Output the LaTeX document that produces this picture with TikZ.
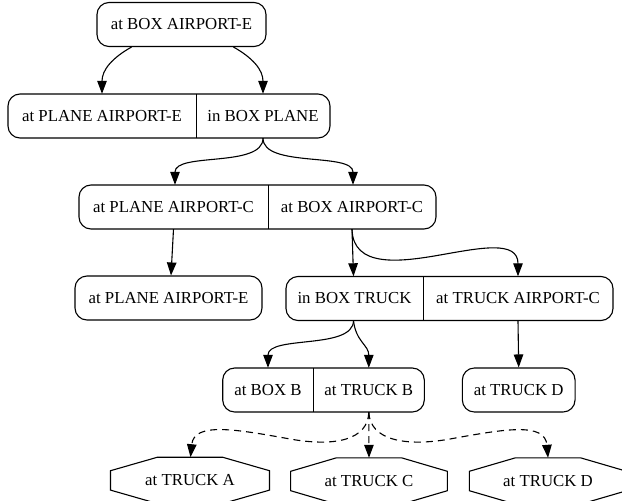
\documentclass[tikz,border=0pt]{standalone}
\usepackage{fontspec}
\setmainfont{Liberation Serif}
\usetikzlibrary{arrows.meta}
\tikzset{
  lbl/.style={font=\fontsize{16.8}{20}\selectfont},
  rbox/.style={draw, line width=1.1pt, rounded corners=12pt, minimum height=44pt, inner sep=0pt, lbl},
  field/.style={minimum height=44pt, inner sep=0pt, lbl},
  octo/.style={minimum height=46pt, inner sep=0pt, lbl},
  edge/.style={line width=1.1pt, -{Triangle[length=13pt,width=9.5pt]}},
  dedge/.style={edge, dash pattern=on 7pt off 5pt},
  divider/.style={line width=1.1pt}
}
\newcommand\octoline[1]{%
  \draw[line width=1.1pt] ([xshift=-32.5pt]#1.north) -- ([xshift=32.5pt]#1.north)
    -- ([yshift=9.7pt]#1.east) -- ([yshift=-9.7pt]#1.east)
    -- ([xshift=32.5pt]#1.south) -- ([xshift=-32.5pt]#1.south)
    -- ([yshift=-9.7pt]#1.west) -- ([yshift=9.7pt]#1.west) -- cycle;}
\begin{document}
\begin{tikzpicture}[x=1pt,y=-1pt]
\useasboundingbox[fill=white] (0,0) rectangle (622,501);

% top node
\node[rbox, minimum width=169pt] (n1) at (181.5,24.5) {at BOX AIRPORT-E};

% record 2
\node[rbox, minimum width=322pt] (r2) at (169,116) {};
\node[field, minimum width=188pt] (r2a) at (102,116) {at PLANE AIRPORT-E};
\node[field, minimum width=134pt] (r2b) at (263,116) {in BOX PLANE};
\draw[divider] (r2a.north east) -- (r2a.south east);

% record 3
\node[rbox, minimum width=357pt] (r3) at (257.5,207) {};
\node[field, minimum width=189pt] (r3a) at (173.5,207) {at PLANE AIRPORT-C};
\node[field, minimum width=168pt] (r3b) at (352,207) {at BOX AIRPORT-C};
\draw[divider] (r3a.north east) -- (r3a.south east);

% node 4
\node[rbox, minimum width=187pt] (n4) at (168.5,298) {at PLANE AIRPORT-E};

% record 5
\node[rbox, minimum width=327pt] (r5) at (449.5,298.5) {};
\node[field, minimum width=137pt] (r5a) at (354.5,298.5) {in BOX TRUCK};
\node[field, minimum width=190pt] (r5b) at (518,298.5) {at TRUCK AIRPORT-C};
\draw[divider] (r5a.north east) -- (r5a.south east);

% record 6
\node[rbox, minimum width=201.6pt] (r6) at (323.5,390) {};
\node[field, minimum width=90.6pt] (r6a) at (268,390) {at BOX B};
\node[field, minimum width=111pt] (r6b) at (368.8,390) {at TRUCK B};
\draw[divider] (r6a.north east) -- (r6a.south east);

% node 7
\node[rbox, minimum width=112.7pt] (n7) at (518.7,390) {at TRUCK D};

% octagons
\node[octo, minimum width=158.6pt] (oA) at (190,480.4) {at TRUCK A};
\node[octo, minimum width=156.3pt] (oC) at (369,481) {at TRUCK C};
\node[octo, minimum width=157pt] (oD) at (548,481) {at TRUCK D};
\octoline{oA}
\octoline{oC}
\octoline{oD}

% edges
\draw[edge] ([xshift=-50pt]n1.south) .. controls (112,58) and (102,70) .. (r2a.north);
\draw[edge] ([xshift=52pt]n1.south) .. controls (253,58) and (263,70) .. (r2b.north);

\draw[edge] (r2b.south) .. controls (263,168) and (175,152) .. ([xshift=1.5pt]r3a.north);
\draw[edge] (r2b.south) .. controls (263,168) and (353,152) .. ([xshift=1pt]r3b.north);

\draw[edge] (r3a.south) -- ([xshift=2.5pt]n4.north);
\draw[edge] (r3b.south) -- ([xshift=-1pt]r5a.north);
\draw[edge] (r3b.south) .. controls (353,268) and (400,262) .. (440,255)
                        .. controls (480,248) and (518,240) .. (r5b.north);

\draw[edge] ([xshift=-1pt]r5a.south) .. controls (353,350) and (268,335) .. (r6a.north);
\draw[edge] ([xshift=-1pt]r5a.south) .. controls (356,342) and (368.8,345) .. (r6b.north);
\draw[edge] (r5b.south) -- (n7.north);

% dashed edges
\draw[dedge] (r6b.south) .. controls (368,440) and (335,447) .. (290,439)
                         .. controls (235,429) and (194,422) .. ([xshift=0.5pt]oA.north);
\draw[dedge] (r6b.south) -- (oC.north);
\draw[dedge] (r6b.south) .. controls (370,440) and (405,447) .. (450,439)
                         .. controls (505,429) and (545,422) .. (oD.north);
\end{tikzpicture}
\end{document}
